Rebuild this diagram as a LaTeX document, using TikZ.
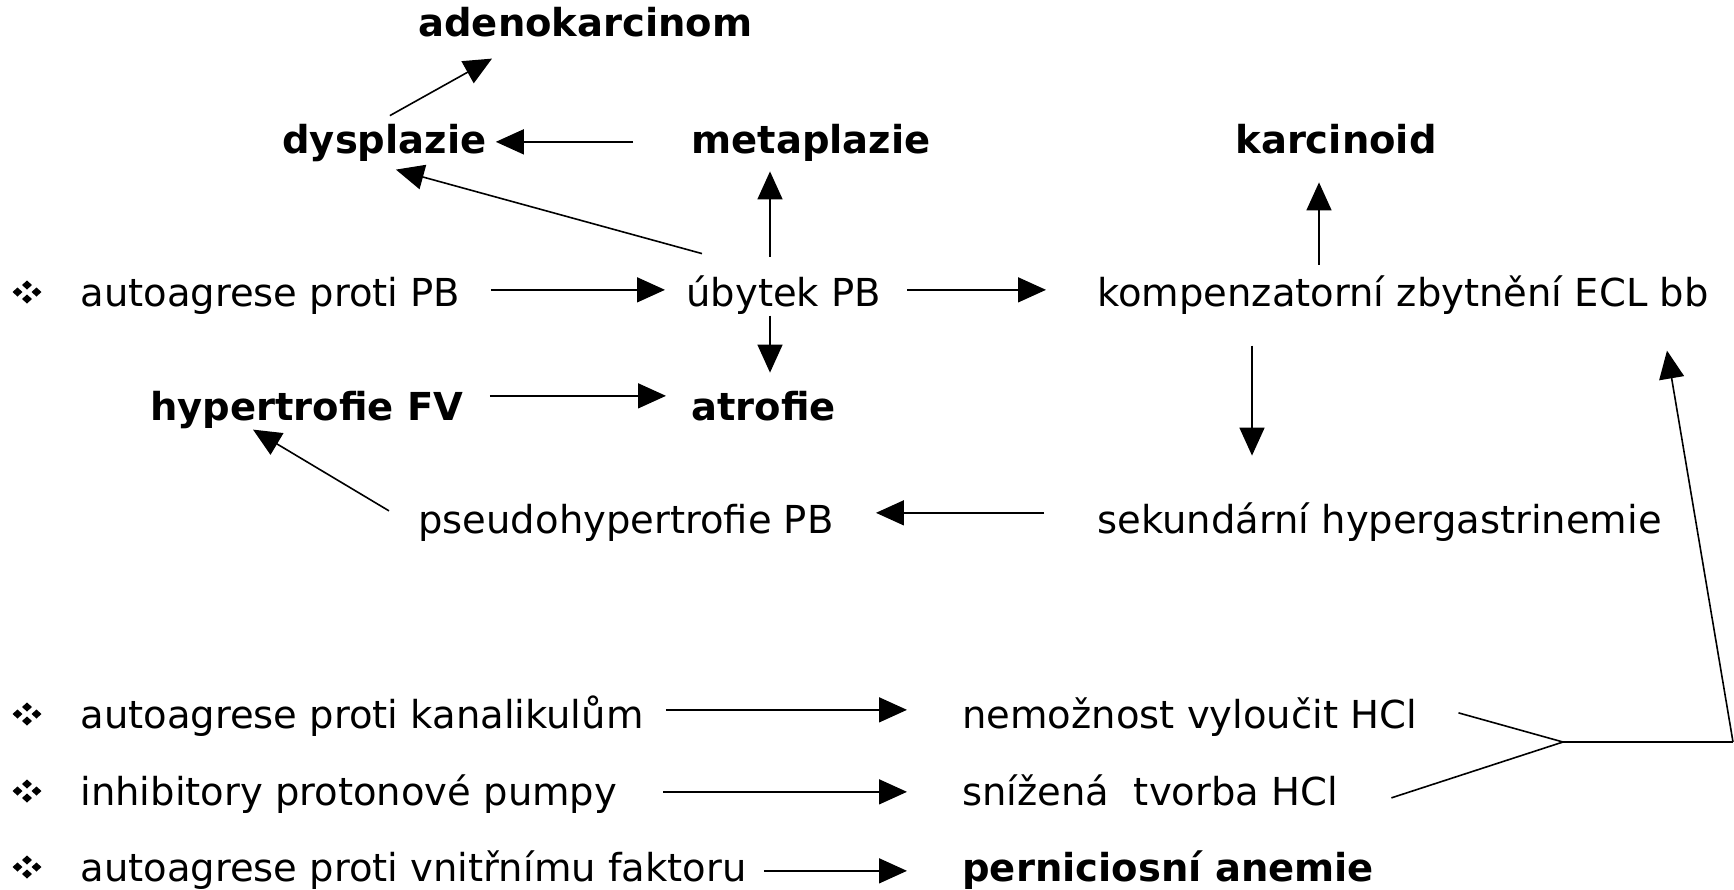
\documentclass[tikz,border=0pt]{standalone}
\usepackage{fontspec}
\setmainfont{DejaVu Sans}
\usetikzlibrary{arrows.meta,calc}
\tikzset{
  txt/.style={anchor=base west, inner sep=0pt, text height=19.25pt, text depth=3.1pt,
              font=\fontsize{19.25}{23}\selectfont},
  btxt/.style={txt, font=\fontsize{19.25}{23}\selectfont\bfseries},
  arr/.style={line width=0.8pt, -{Triangle[length=14pt,width=12.5pt]}},
  ln/.style={line width=0.8pt},
  bulletmark/.pic={
    \foreach \dx/\dy in {-9.5/0,9.5/0,0/-7,0/7}
      \fill (\dx,\dy) ++(-5,0) -- ++(5,-4.5) -- ++(5,4.5) -- ++(-5,4.5) -- cycle;
  }
}
\begin{document}
\begin{tikzpicture}[x=0.5pt,y=-0.5pt]
\useasboundingbox (0,0) rectangle (1734,889);
% bullets
\pic (b1) at (27,292) {bulletmark};
\pic (b2) at (27,714) {bulletmark};
\pic (b3) at (27,791) {bulletmark};
\pic (b4) at (27,867) {bulletmark};
% nodes
\node[btxt] (adeno) at (418,36) {adenokarcinom};
\node[btxt] (dys) at (282,153) {dysplazie};
\node[btxt] (meta) at (691,153) {metaplazie};
\node[btxt] (karc) at (1235,153) {karcinoid};
\node[txt] (auto) at (80,306) {autoagrese proti PB};
\node[txt] (ubytek) at (686,306) {úbytek PB};
\node[txt] (komp) at (1097,306) {kompenzatorní zbytnění ECL bb};
\node[btxt] (hyper) at (150,420) {hypertrofie FV};
\node[btxt] (atro) at (691,420) {atrofie};
\node[txt] (pseudo) at (418,533) {pseudohypertrofie PB};
\node[txt] (sek) at (1097,533) {sekundární hypergastrinemie};
\node[txt] (kanal) at (80,728) {autoagrese proti kanalikulům};
\node[txt] (nemoz) at (962,728) {nemožnost vyloučit HCl};
\node[txt] (inhib) at (80,805) {inhibitory protonové pumpy};
\node[txt] (sniz) at (962,805) {snížená\ \ tvorba HCl};
\node[txt] (vnitr) at (80,881) {autoagrese proti vnitřnímu faktoru};
\node[btxt] (pern) at (962,881) {perniciosní anemie};
% connectors
\draw[arr] ($(dys.north)+(5.5,1.5)$) -- ($(adeno.south west)+(74,16)$);
\draw[arr] ($(meta.west)+(-58,5)$) -- ($(dys.east)+(9,5)$);
\draw[arr] ($(ubytek.north west)+(16,-13.5)$) -- ($(dys.south)+(11.5,10)$);
\draw[arr] ($(ubytek.north west)+(84,-10.5)$) -- ($(meta.south west)+(79,11.8)$);
\draw[arr] ($(auto.east)+(30,0)$) -- ($(ubytek.west)+(-21,0)$);
\draw[arr] ($(ubytek.east)+(26,0)$) -- ($(komp.west)+(-51,0)$);
\draw[arr] ($(ubytek.south west)+(84,3)$) -- ($(atro.north west)+(79,-8.5)$);
\draw[arr] ($(hyper.east)+(26,-8)$) -- ($(atro.west)+(-25,-8)$);
\draw[arr] ($(komp.north west)+(222,-2.5)$) -- ($(karc.south west)+(84,22.8)$);
\draw[arr] ($(komp.south west)+(155,33)$) -- ($(sek.north west)+(155,-38.5)$);
\draw[arr] ($(sek.west)+(-53,-4)$) -- ($(pseudo.east)+(42,-4)$);
\draw[arr] ($(pseudo.west)+(-29,-6)$) -- ($(hyper.south west)+(103,3)$);
\draw[arr] ($(kanal.east)+(22,-2)$) -- ($(nemoz.west)+(-55,-2)$);
\draw[arr] ($(inhib.east)+(46,3)$) -- ($(sniz.west)+(-55,3)$);
\draw[arr] ($(vnitr.east)+(17,6)$) -- ($(pern.west)+(-55,6)$);
% bracket
\coordinate (join) at (1563,742);
\coordinate (corner) at (1733,742);
\draw[ln] ($(nemoz.east)+(41,1)$) -- (join);
\draw[ln] ($(sniz.east)+(53,9)$) -- (join);
\draw[ln] (join) -- (corner);
\draw[arr] (corner) -- ($(komp.south east)+(-42,38)$);
\end{tikzpicture}
\end{document}
